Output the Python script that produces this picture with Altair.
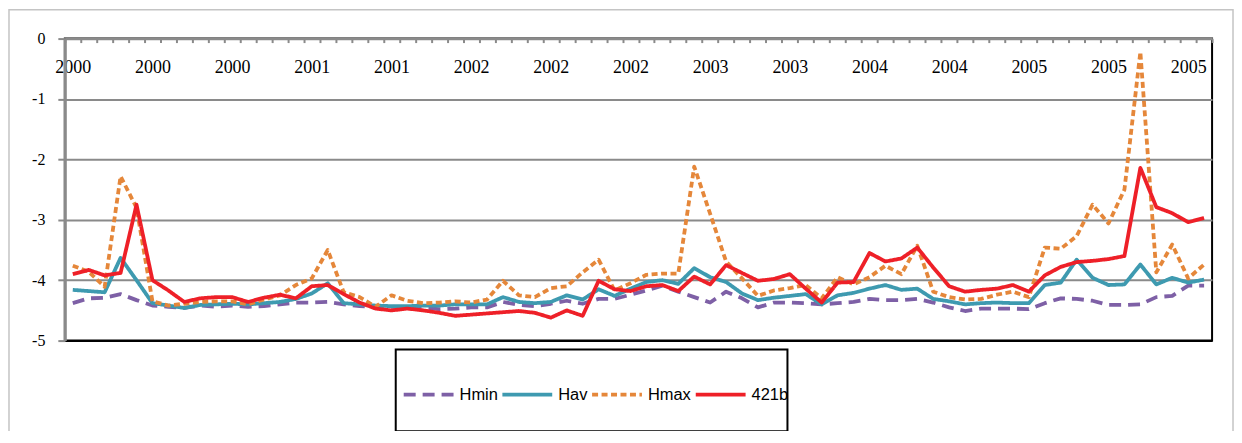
import json
import altair as alt
import pandas as pd

categories = list(range(72))
x_tick_labels = ["2000", "2000", "2000", "2001", "2001", "2002", "2002", "2002",
                 "2003", "2003", "2004", "2004", "2005", "2005", "2005"]
y_ticks = [0, -1, -2, -3, -4, -5]
series_names = ["Hmin", "Hav", "Hmax", "421b"]
series_colors = ["#7E60A6", "#3E9AB0", "#E5873A", "#EE2028"]

hmin = [-4.38, -4.30, -4.29, -4.23, -4.33, -4.42, -4.44, -4.46, -4.42, -4.44,
        -4.42, -4.44, -4.43, -4.40, -4.37, -4.37, -4.36, -4.40, -4.43, -4.44,
        -4.44, -4.45, -4.46, -4.48, -4.47, -4.45, -4.45, -4.36, -4.41, -4.43,
        -4.39, -4.34, -4.39, -4.31, -4.31, -4.24, -4.17, -4.09, -4.19, -4.28,
        -4.37, -4.19, -4.30, -4.45, -4.37, -4.37, -4.38, -4.40, -4.38, -4.36,
        -4.31, -4.33, -4.33, -4.31, -4.37, -4.45, -4.51, -4.47, -4.47, -4.47,
        -4.48, -4.38, -4.30, -4.31, -4.34, -4.41, -4.41, -4.40, -4.28, -4.26,
        -4.09, -4.09]
hav = [-4.16, -4.18, -4.20, -3.63, -4.00, -4.38, -4.42, -4.46, -4.41, -4.40,
       -4.39, -4.40, -4.38, -4.36, -4.31, -4.22, -4.05, -4.38, -4.40, -4.42,
       -4.43, -4.43, -4.42, -4.42, -4.40, -4.40, -4.40, -4.28, -4.36, -4.38,
       -4.36, -4.25, -4.32, -4.15, -4.26, -4.14, -4.03, -4.00, -4.06, -3.80,
       -3.95, -4.03, -4.22, -4.33, -4.29, -4.26, -4.23, -4.40, -4.25, -4.21,
       -4.14, -4.08, -4.16, -4.14, -4.31, -4.35, -4.40, -4.38, -4.37, -4.38,
       -4.38, -4.08, -4.04, -3.66, -3.96, -4.08, -4.07, -3.74, -4.07, -3.96,
       -4.04, -3.99]
hmax = [-3.76, -3.86, -4.11, -2.28, -2.80, -4.35, -4.42, -4.39, -4.36, -4.35,
        -4.35, -4.40, -4.32, -4.25, -4.08, -3.97, -3.50, -4.20, -4.28, -4.44,
        -4.25, -4.34, -4.38, -4.37, -4.35, -4.37, -4.32, -4.01, -4.25, -4.28,
        -4.13, -4.10, -3.87, -3.66, -4.17, -4.05, -3.91, -3.89, -3.89, -2.12,
        -2.90, -3.69, -3.97, -4.26, -4.17, -4.13, -4.08, -4.30, -3.95, -4.07,
        -3.95, -3.76, -3.90, -3.43, -4.19, -4.28, -4.32, -4.31, -4.24, -4.19,
        -4.28, -3.46, -3.48, -3.27, -2.75, -3.06, -2.50, -0.22, -3.87, -3.41,
        -3.97, -3.74]
b421 = [-3.90, -3.83, -3.92, -3.88, -2.75, -4.00, -4.17, -4.36, -4.30, -4.28,
        -4.28, -4.36, -4.29, -4.24, -4.30, -4.10, -4.08, -4.23, -4.37, -4.47,
        -4.50, -4.47, -4.50, -4.54, -4.59, -4.57, -4.55, -4.53, -4.51, -4.54,
        -4.62, -4.50, -4.59, -4.01, -4.15, -4.18, -4.10, -4.08, -4.18, -3.94,
        -4.07, -3.75, -3.88, -4.01, -3.98, -3.90, -4.14, -4.37, -4.04, -4.03,
        -3.55, -3.69, -3.64, -3.46, -3.79, -4.10, -4.19, -4.16, -4.14, -4.08,
        -4.19, -3.92, -3.78, -3.70, -3.68, -3.65, -3.60, -2.14, -2.79, -2.89,
        -3.04, -2.97]

rows = []
for name, vals in zip(series_names, [hmin, hav, hmax, b421]):
    for i, v in zip(categories, vals):
        rows.append({"idx": i, "series": name, "value": v})
df = pd.DataFrame(rows)

W, H = 1151, 303
GRAY = "#8a8a8a"

label_expr = "datum.value % 5 == 0 ? " + json.dumps(x_tick_labels) + "[datum.value / 5] : ''"

legend_kw = dict(
    orient="none", legendX=338, legendY=330, direction="horizontal", title=None,
    symbolType="stroke", symbolSize=2500, symbolStrokeWidth=4,
    labelFont="Liberation Sans", labelFontSize=16.5, labelColor="black",
    labelOffset=4, columnPadding=-4, padding=0,
)

lines = alt.Chart(df).mark_line(strokeCap="butt", strokeJoin="round").encode(
    x=alt.X(
        "idx:O",
        scale=alt.Scale(type="band", paddingInner=0, paddingOuter=0),
        bandPosition=0.5,
        axis=alt.Axis(
            orient="bottom", offset=-H, title=None, labelAngle=0,
            labelExpr=label_expr, tickBand="extent", tickSize=4,
            tickColor=GRAY, tickWidth=2, domainColor=GRAY, domainWidth=2.5,
            labelFont="Liberation Serif", labelFontSize=18, labelColor="black",
            labelPadding=16, grid=False,
        ),
    ),
    y=alt.Y(
        "value:Q",
        scale=alt.Scale(domain=[-5, 0], nice=False, zero=False),
        axis=alt.Axis(
            values=y_ticks, labelExpr="'' + datum.value", title=None, grid=True,
            gridColor={"condition": {"test": "datum.value === -5", "value": "black"}, "value": GRAY},
            gridWidth=2, domainColor=GRAY, domainWidth=3, tickColor=GRAY,
            tickWidth=2, tickSize=7, labelPadding=13,
            labelFont="Liberation Serif", labelFontSize=16, labelColor="black",
        ),
    ),
    color=alt.Color("series:N", scale=alt.Scale(domain=series_names, range=series_colors),
                    sort=series_names, legend=alt.Legend(**legend_kw)),
    strokeDash=alt.StrokeDash("series:N",
                              scale=alt.Scale(domain=series_names,
                                              range=[[12, 7], [1, 0], [6, 3.5], [1, 0]]),
                              sort=series_names, legend=alt.Legend(**legend_kw)),
    strokeWidth=alt.StrokeWidth("series:N",
                                scale=alt.Scale(domain=series_names, range=[3.8, 3.8, 3.8, 4.4]),
                                legend=None),
)

one = pd.DataFrame({"d": [0]})
frame = alt.Chart(one).mark_rect(filled=False, stroke="#c4c4c4", strokeWidth=1.5).encode(
    x=alt.value(-56), x2=alt.value(1172), y=alt.value(-29), y2=alt.value(420)
)
legend_box = alt.Chart(one).mark_rect(filled=False, stroke="black", strokeWidth=2).encode(
    x=alt.value(332), x2=alt.value(725), y=alt.value(312), y2=alt.value(394)
)

chart = alt.layer(frame, legend_box, lines).properties(
    width=W, height=H,
    autosize=alt.AutoSizeParams(type="none"),
    padding={"left": 57, "top": 30, "right": 22, "bottom": 90},
).configure_view(stroke="black", strokeWidth=2)

chart.save("out.html", embed_options={"renderer": "svg", "actions": False})
